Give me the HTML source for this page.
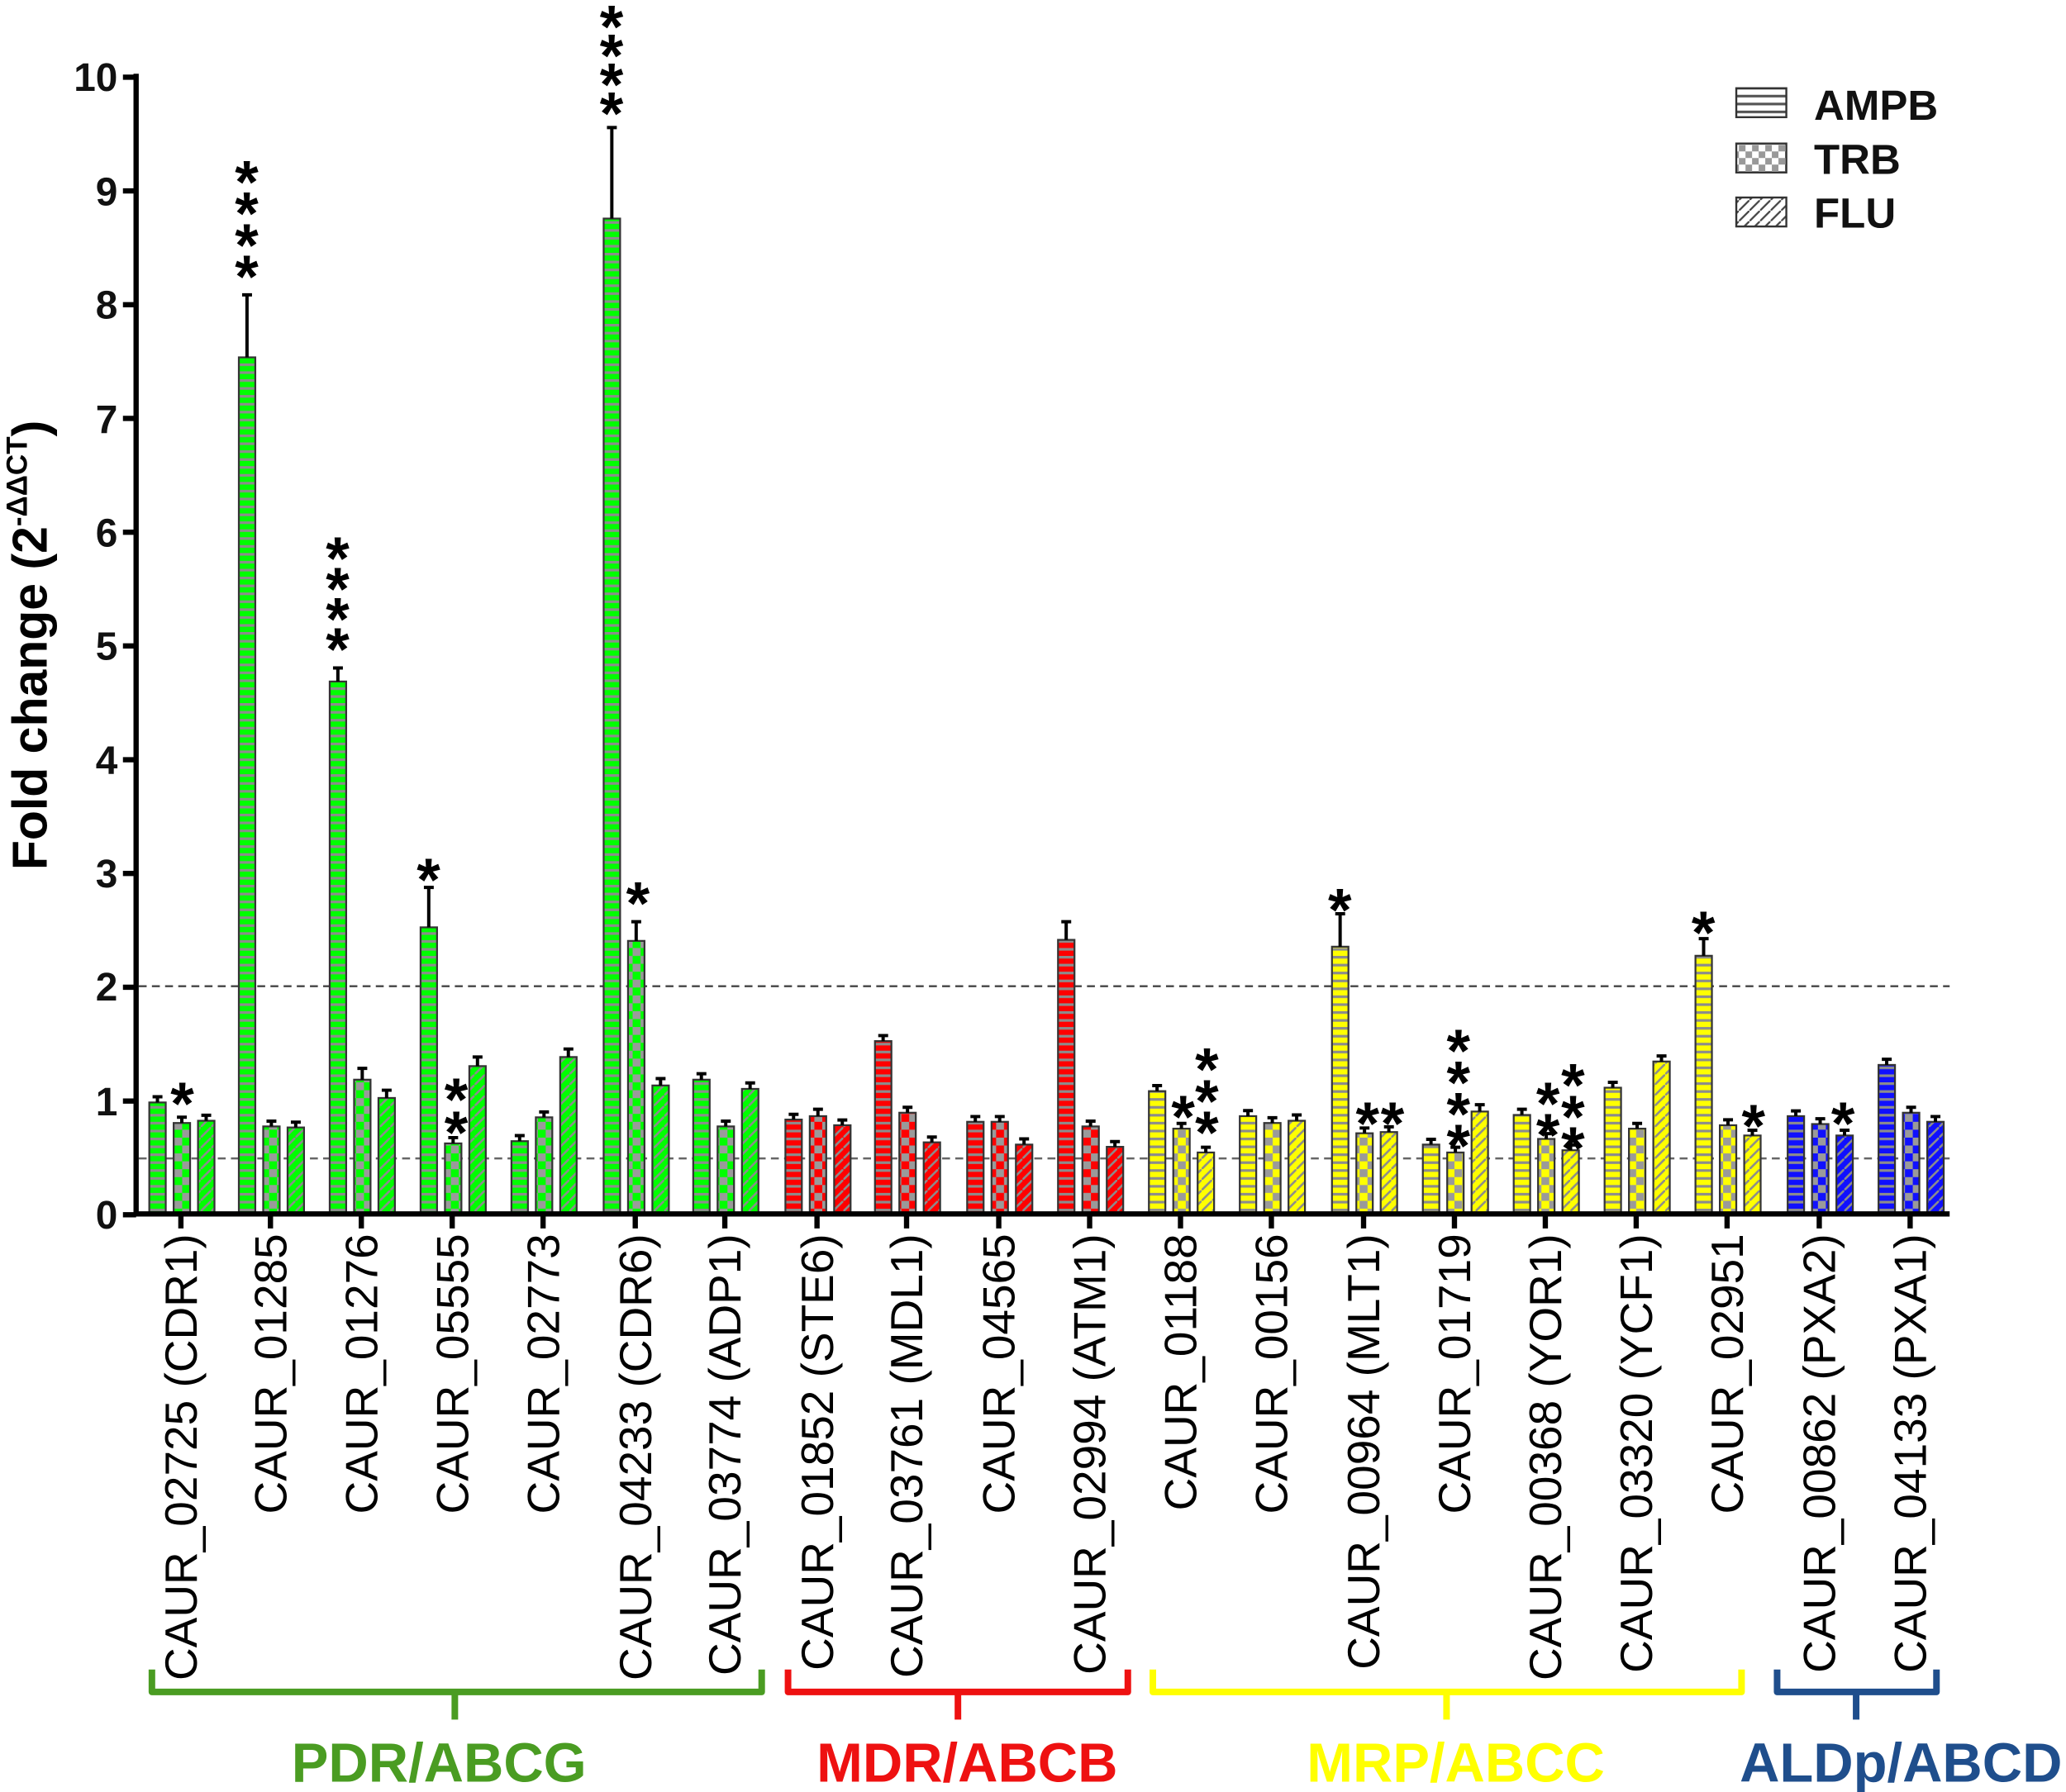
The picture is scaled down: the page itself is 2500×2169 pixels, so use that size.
<!DOCTYPE html>
<html><head><meta charset="utf-8"><style>html,body{margin:0;padding:0;background:#fff}svg{display:block}</style></head><body>
<svg width="2500" height="2169" viewBox="0 0 1568 1361" xmlns="http://www.w3.org/2000/svg" font-family="Liberation Sans, Arial, sans-serif">
<defs>
<pattern id="gH" width="6" height="6" patternUnits="userSpaceOnUse"><rect width="6" height="6" fill="#00ff00"/><rect width="6" height="2" fill="#8c8c8c"/></pattern>
<pattern id="gC" width="12" height="12" patternUnits="userSpaceOnUse"><rect width="12" height="12" fill="#00ff00"/><rect width="6" height="6" fill="#9a9a9a"/><rect x="6" y="6" width="6" height="6" fill="#9a9a9a"/></pattern>
<pattern id="gD" width="8" height="8" patternUnits="userSpaceOnUse"><rect width="8" height="8" fill="#00ff00"/><path d="M-1 9L9 -1" stroke="#8c8c8c" stroke-width="1.6"/></pattern>
<pattern id="rH" width="6" height="6" patternUnits="userSpaceOnUse"><rect width="6" height="6" fill="#ff0000"/><rect width="6" height="2" fill="#8c8c8c"/></pattern>
<pattern id="rC" width="12" height="12" patternUnits="userSpaceOnUse"><rect width="12" height="12" fill="#ff0000"/><rect width="6" height="6" fill="#9a9a9a"/><rect x="6" y="6" width="6" height="6" fill="#9a9a9a"/></pattern>
<pattern id="rD" width="8" height="8" patternUnits="userSpaceOnUse"><rect width="8" height="8" fill="#ff0000"/><path d="M-1 9L9 -1" stroke="#8c8c8c" stroke-width="1.6"/></pattern>
<pattern id="yH" width="6" height="6" patternUnits="userSpaceOnUse"><rect width="6" height="6" fill="#ffff00"/><rect width="6" height="2" fill="#8c8c8c"/></pattern>
<pattern id="yC" width="12" height="12" patternUnits="userSpaceOnUse"><rect width="12" height="12" fill="#ffff00"/><rect width="6" height="6" fill="#9a9a9a"/><rect x="6" y="6" width="6" height="6" fill="#9a9a9a"/></pattern>
<pattern id="yD" width="8" height="8" patternUnits="userSpaceOnUse"><rect width="8" height="8" fill="#ffff00"/><path d="M-1 9L9 -1" stroke="#8c8c8c" stroke-width="1.6"/></pattern>
<pattern id="bH" width="6" height="6" patternUnits="userSpaceOnUse"><rect width="6" height="6" fill="#1010ff"/><rect width="6" height="2" fill="#8c8c8c"/></pattern>
<pattern id="bC" width="12" height="12" patternUnits="userSpaceOnUse"><rect width="12" height="12" fill="#1010ff"/><rect width="6" height="6" fill="#9a9a9a"/><rect x="6" y="6" width="6" height="6" fill="#9a9a9a"/></pattern>
<pattern id="bD" width="8" height="8" patternUnits="userSpaceOnUse"><rect width="8" height="8" fill="#1010ff"/><path d="M-1 9L9 -1" stroke="#8c8c8c" stroke-width="1.6"/></pattern>
<pattern id="wH" width="6" height="6" patternUnits="userSpaceOnUse"><rect width="6" height="6" fill="#fff"/><rect width="6" height="2" fill="#555"/></pattern>
<pattern id="wC" width="10" height="10" patternUnits="userSpaceOnUse"><rect width="10" height="10" fill="#fff"/><rect width="5" height="5" fill="#999"/><rect x="5" y="5" width="5" height="5" fill="#999"/></pattern>
<pattern id="wD" width="8" height="8" patternUnits="userSpaceOnUse"><rect width="8" height="8" fill="#fff"/><path d="M-1 9L9 -1" stroke="#444" stroke-width="1.4"/></pattern>
</defs>

<line x1="105" y1="749" x2="1480" y2="749" stroke="#444" stroke-width="1.5" stroke-dasharray="6,4"/>
<line x1="105" y1="879.8" x2="1480" y2="879.8" stroke="#666" stroke-width="1.5" stroke-dasharray="6,4"/>

<g stroke="#333" stroke-width="1.4">
<rect x="113" y="837.3" width="12.5" height="84.7" fill="url(#gH)"/>
<rect x="131.5" y="852.9" width="12.5" height="69.1" fill="url(#gC)"/>
<rect x="150" y="851.2" width="12.5" height="70.8" fill="url(#gD)"/>
<rect x="181" y="271.4" width="12.5" height="650.6" fill="url(#gH)"/>
<rect x="199.5" y="855.5" width="12.5" height="66.5" fill="url(#gC)"/>
<rect x="218" y="856.3" width="12.5" height="65.7" fill="url(#gD)"/>
<rect x="250" y="517.6" width="12.5" height="404.4" fill="url(#gH)"/>
<rect x="268.5" y="820" width="12.5" height="102" fill="url(#gC)"/>
<rect x="287" y="833.9" width="12.5" height="88.1" fill="url(#gD)"/>
<rect x="319" y="704.3" width="12.5" height="217.7" fill="url(#gH)"/>
<rect x="337.5" y="868.4" width="12.5" height="53.6" fill="url(#gC)"/>
<rect x="356" y="809.7" width="12.5" height="112.3" fill="url(#gD)"/>
<rect x="388" y="866.7" width="12.5" height="55.3" fill="url(#gH)"/>
<rect x="406.5" y="848.6" width="12.5" height="73.4" fill="url(#gC)"/>
<rect x="425" y="802.8" width="12.5" height="119.2" fill="url(#gD)"/>
<rect x="458" y="166" width="12.5" height="756" fill="url(#gH)"/>
<rect x="476.5" y="714.6" width="12.5" height="207.4" fill="url(#gC)"/>
<rect x="495" y="824.4" width="12.5" height="97.6" fill="url(#gD)"/>
<rect x="526" y="820" width="12.5" height="102" fill="url(#gH)"/>
<rect x="544.5" y="855.5" width="12.5" height="66.5" fill="url(#gC)"/>
<rect x="563" y="827" width="12.5" height="95" fill="url(#gD)"/>
<rect x="596" y="850.3" width="12.5" height="71.7" fill="url(#rH)"/>
<rect x="614.5" y="847.7" width="12.5" height="74.3" fill="url(#rC)"/>
<rect x="633" y="854.6" width="12.5" height="67.4" fill="url(#rD)"/>
<rect x="664" y="790.7" width="12.5" height="131.3" fill="url(#rH)"/>
<rect x="682.5" y="845.1" width="12.5" height="76.9" fill="url(#rC)"/>
<rect x="701" y="867.6" width="12.5" height="54.4" fill="url(#rD)"/>
<rect x="734" y="852" width="12.5" height="70" fill="url(#rH)"/>
<rect x="752.5" y="852" width="12.5" height="70" fill="url(#rC)"/>
<rect x="771" y="869.3" width="12.5" height="52.7" fill="url(#rD)"/>
<rect x="803" y="713.8" width="12.5" height="208.2" fill="url(#rH)"/>
<rect x="821.5" y="855.5" width="12.5" height="66.5" fill="url(#rC)"/>
<rect x="840" y="871" width="12.5" height="51" fill="url(#rD)"/>
<rect x="872" y="828.7" width="12.5" height="93.3" fill="url(#yH)"/>
<rect x="890.5" y="857.2" width="12.5" height="64.8" fill="url(#yC)"/>
<rect x="909" y="875.3" width="12.5" height="46.7" fill="url(#yD)"/>
<rect x="941" y="847.7" width="12.5" height="74.3" fill="url(#yH)"/>
<rect x="959.5" y="852.9" width="12.5" height="69.1" fill="url(#yC)"/>
<rect x="978" y="851.2" width="12.5" height="70.8" fill="url(#yD)"/>
<rect x="1011" y="719" width="12.5" height="203" fill="url(#yH)"/>
<rect x="1029.5" y="860.7" width="12.5" height="61.3" fill="url(#yC)"/>
<rect x="1048" y="859.8" width="12.5" height="62.2" fill="url(#yD)"/>
<rect x="1080" y="869.3" width="12.5" height="52.7" fill="url(#yH)"/>
<rect x="1098.5" y="875.3" width="12.5" height="46.7" fill="url(#yC)"/>
<rect x="1117" y="844.2" width="12.5" height="77.8" fill="url(#yD)"/>
<rect x="1149" y="846.8" width="12.5" height="75.2" fill="url(#yH)"/>
<rect x="1167.5" y="865" width="12.5" height="57" fill="url(#yC)"/>
<rect x="1186" y="873.6" width="12.5" height="48.4" fill="url(#yD)"/>
<rect x="1218" y="826.1" width="12.5" height="95.9" fill="url(#yH)"/>
<rect x="1236.5" y="857.2" width="12.5" height="64.8" fill="url(#yC)"/>
<rect x="1255" y="806.2" width="12.5" height="115.8" fill="url(#yD)"/>
<rect x="1287" y="725.9" width="12.5" height="196.1" fill="url(#yH)"/>
<rect x="1305.5" y="854.6" width="12.5" height="67.4" fill="url(#yC)"/>
<rect x="1324" y="862.4" width="12.5" height="59.6" fill="url(#yD)"/>
<rect x="1357" y="847.7" width="12.5" height="74.3" fill="url(#bH)"/>
<rect x="1375.5" y="853.7" width="12.5" height="68.3" fill="url(#bC)"/>
<rect x="1394" y="862.4" width="12.5" height="59.6" fill="url(#bD)"/>
<rect x="1426" y="808.8" width="12.5" height="113.2" fill="url(#bH)"/>
<rect x="1444.5" y="845.1" width="12.5" height="76.9" fill="url(#bC)"/>
<rect x="1463" y="852" width="12.5" height="70" fill="url(#bD)"/>
</g>

<g stroke="#000" stroke-width="2.5" fill="none">
<path d="M119.2 837.3V833M115.5 833H123"/>
<path d="M137.7 852.9V848.5M134 848.5H141.5"/>
<path d="M156.2 851.2V847M152.5 847H160"/>
<path d="M187.2 271.4V223.9M183.5 223.9H191"/>
<path d="M205.7 855.5V851.5M202 851.5H209.5"/>
<path d="M224.2 856.3V852.3M220.5 852.3H228"/>
<path d="M256.2 517.6V507.3M252.5 507.3H260"/>
<path d="M274.7 820V811.4M271 811.4H278.5"/>
<path d="M293.2 833.9V828M289.5 828H297"/>
<path d="M325.2 704.3V674M321.5 674H329"/>
<path d="M343.7 868.4V864M340 864H347.5"/>
<path d="M362.2 809.7V802.8M358.5 802.8H366"/>
<path d="M394.2 866.7V862.5M390.5 862.5H398"/>
<path d="M412.7 848.6V844.5M409 844.5H416.5"/>
<path d="M431.2 802.8V796.7M427.5 796.7H435"/>
<path d="M464.2 166V96.9M460.5 96.9H468"/>
<path d="M482.7 714.6V700M479 700H486.5"/>
<path d="M501.2 824.4V819.2M497.5 819.2H505"/>
<path d="M532.2 820V815.5M528.5 815.5H536"/>
<path d="M550.7 855.5V851.5M547 851.5H554.5"/>
<path d="M569.2 827V822.5M565.5 822.5H573"/>
<path d="M602.2 850.3V846.3M598.5 846.3H606"/>
<path d="M620.7 847.7V842.5M617 842.5H624.5"/>
<path d="M639.2 854.6V850.6M635.5 850.6H643"/>
<path d="M670.2 790.7V786.5M666.5 786.5H674"/>
<path d="M688.7 845.1V841M685 841H692.5"/>
<path d="M707.2 867.6V863.6M703.5 863.6H711"/>
<path d="M740.2 852V848M736.5 848H744"/>
<path d="M758.7 852V848M755 848H762.5"/>
<path d="M777.2 869.3V865M773.5 865H781"/>
<path d="M809.2 713.8V700M805.5 700H813"/>
<path d="M827.7 855.5V851.5M824 851.5H831.5"/>
<path d="M846.2 871V867M842.5 867H850"/>
<path d="M878.2 828.7V824.5M874.5 824.5H882"/>
<path d="M896.7 857.2V853.2M893 853.2H900.5"/>
<path d="M915.2 875.3V871.3M911.5 871.3H919"/>
<path d="M947.2 847.7V843.5M943.5 843.5H951"/>
<path d="M965.7 852.9V848.9M962 848.9H969.5"/>
<path d="M984.2 851.2V846.8M980.5 846.8H988"/>
<path d="M1017.2 719V694M1013.5 694H1021"/>
<path d="M1035.7 860.7V856.7M1032 856.7H1039.5"/>
<path d="M1054.2 859.8V855.8M1050.5 855.8H1058"/>
<path d="M1086.2 869.3V865.3M1082.5 865.3H1090"/>
<path d="M1104.7 875.3V871.3M1101 871.3H1108.5"/>
<path d="M1123.2 844.2V839M1119.5 839H1127"/>
<path d="M1155.2 846.8V842.5M1151.5 842.5H1159"/>
<path d="M1173.7 865V861M1170 861H1177.5"/>
<path d="M1192.2 873.6V869.6M1188.5 869.6H1196"/>
<path d="M1224.2 826.1V822M1220.5 822H1228"/>
<path d="M1242.7 857.2V853.2M1239 853.2H1246.5"/>
<path d="M1261.2 806.2V802M1257.5 802H1265"/>
<path d="M1293.2 725.9V712.9M1289.5 712.9H1297"/>
<path d="M1311.7 854.6V850.5M1308 850.5H1315.5"/>
<path d="M1330.2 862.4V858.4M1326.5 858.4H1334"/>
<path d="M1363.2 847.7V843.7M1359.5 843.7H1367"/>
<path d="M1381.7 853.7V849.7M1378 849.7H1385.5"/>
<path d="M1400.2 862.4V858.4M1396.5 858.4H1404"/>
<path d="M1432.2 808.8V804.5M1428.5 804.5H1436"/>
<path d="M1450.7 845.1V841M1447 841H1454.5"/>
<path d="M1469.2 852V848M1465.5 848H1473"/>
</g>

<g stroke="#000" stroke-width="4" fill="none">
<path d="M103 56V922H1480"/>
<path d="M93 58.6H103M93 145H103M93 231.4H103M93 317.8H103M93 404.2H103M93 490.6H103M93 577H103M93 663.4H103M93 749.8H103M93 836.2H103M93 922.6H103"/>
<path d="M137 922V933M205 922V933M274 922V933M343 922V933M412 922V933M482 922V933M550 922V933M620 922V933M688 922V933M758 922V933M827 922V933M896 922V933M965 922V933M1035 922V933M1104 922V933M1173 922V933M1242 922V933M1311 922V933M1381 922V933M1450 922V933"/>
</g>

<g font-size="30" font-weight="bold" text-anchor="end" fill="#111">
<text x="89" y="69">10</text><text x="89" y="156">9</text><text x="89" y="242">8</text><text x="89" y="329">7</text><text x="89" y="415">6</text><text x="89" y="501">5</text><text x="89" y="588">4</text><text x="89" y="674">3</text><text x="89" y="760">2</text><text x="89" y="847">1</text><text x="89" y="933">0</text>
</g>
<text transform="translate(35,490) rotate(-90)" font-size="37" font-weight="bold" text-anchor="middle">Fold change (2<tspan font-size="22" dy="-15">-ΔΔCT</tspan><tspan dy="15">)</tspan></text>

<g font-size="34.5" text-anchor="end" fill="#000">
<text transform="translate(149,937) rotate(-90)">CAUR_02725 (CDR1)</text>
<text transform="translate(217,937) rotate(-90)">CAUR_01285</text>
<text transform="translate(286,937) rotate(-90)">CAUR_01276</text>
<text transform="translate(355,937) rotate(-90)">CAUR_05555</text>
<text transform="translate(424,937) rotate(-90)">CAUR_02773</text>
<text transform="translate(494,937) rotate(-90)">CAUR_04233 (CDR6)</text>
<text transform="translate(562,937) rotate(-90)">CAUR_03774 (ADP1)</text>
<text transform="translate(632,937) rotate(-90)">CAUR_01852 (STE6)</text>
<text transform="translate(700,937) rotate(-90)">CAUR_03761 (MDL1)</text>
<text transform="translate(770,937) rotate(-90)">CAUR_04565</text>
<text transform="translate(839,937) rotate(-90)">CAUR_02994 (ATM1)</text>
<text transform="translate(908,937) rotate(-90)">CAUR_01188</text>
<text transform="translate(977,937) rotate(-90)">CAUR_00156</text>
<text transform="translate(1047,937) rotate(-90)">CAUR_00964 (MLT1)</text>
<text transform="translate(1116,937) rotate(-90)">CAUR_01719</text>
<text transform="translate(1185,937) rotate(-90)">CAUR_00368 (YOR1)</text>
<text transform="translate(1254,937) rotate(-90)">CAUR_03320 (YCF1)</text>
<text transform="translate(1323,937) rotate(-90)">CAUR_02951</text>
<text transform="translate(1393,937) rotate(-90)">CAUR_00862 (PXA2)</text>
<text transform="translate(1462,937) rotate(-90)">CAUR_04133 (PXA1)</text>
</g>

<g font-size="46" font-weight="bold" text-anchor="middle" transform="translate(0,5)">
<text x="187" y="221">*<tspan x="187" y="197">*</tspan><tspan x="187" y="173">*</tspan><tspan x="187" y="149">*</tspan></text>
<text x="464" y="97">*<tspan x="464" y="75">*</tspan><tspan x="464" y="53">*</tspan><tspan x="464" y="31">*</tspan></text>
<text x="256" y="504">*<tspan x="256" y="481">*</tspan><tspan x="256" y="458">*</tspan><tspan x="256" y="435">*</tspan></text>
<text x="325" y="679">*</text>
<text x="346" y="871">*<tspan x="346" y="846">*</tspan></text>
<text x="138" y="849">*</text>
<text x="484" y="697">*</text>
<text x="898" y="859">*</text>
<text x="916" y="871">*<tspan x="916" y="847">*</tspan><tspan x="916" y="823">*</tspan></text>
<text x="1017" y="702">*</text>
<text x="1038" y="864">*</text>
<text x="1057" y="864">*</text>
<text x="1107" y="881">*<tspan x="1107" y="857">*</tspan><tspan x="1107" y="833">*</tspan><tspan x="1107" y="809">*</tspan></text>
<text x="1175" y="873">*<tspan x="1175" y="849">*</tspan></text>
<text x="1194" y="883">*<tspan x="1194" y="859">*</tspan><tspan x="1194" y="835">*</tspan></text>
<text x="1293" y="719">*</text>
<text x="1331" y="866">*</text>
<text x="1399" y="864">*</text>
</g>

<g stroke="#333" stroke-width="1.5">
<rect x="1318" y="67" width="38" height="22" fill="url(#wH)"/>
<rect x="1318" y="109" width="38" height="22" fill="url(#wC)"/>
<rect x="1318" y="150" width="38" height="22" fill="url(#wD)"/>
</g>
<g font-size="32" font-weight="bold" fill="#111">
<text x="1377" y="91">AMPB</text>
<text x="1377" y="132">TRB</text>
<text x="1377" y="173">FLU</text>
</g>

<g fill="none" stroke-width="5" stroke-linejoin="round">
<path d="M115 1268V1285H578V1268M345 1285V1306" stroke="#4a9c22"/>
<path d="M598 1268V1285H856V1268M727 1285V1306" stroke="#ee1111"/>
<path d="M875 1268V1285H1322V1268M1098 1285V1306" stroke="#ffff00"/>
<path d="M1349 1268V1285H1470V1268M1409 1285V1306" stroke="#1f4e8c"/>
</g>
<g font-size="42" font-weight="bold" text-anchor="middle">
<text x="333" y="1353" fill="#4a9c22">PDR/ABCG</text>
<text x="734" y="1353" fill="#ee1111">MDR/ABCB</text>
<text x="1105" y="1353" fill="#ffff00">MRP/ABCC</text>
<text x="1443" y="1353" fill="#1f4e8c">ALDp/ABCD</text>
</g>
</svg>
</body></html>
